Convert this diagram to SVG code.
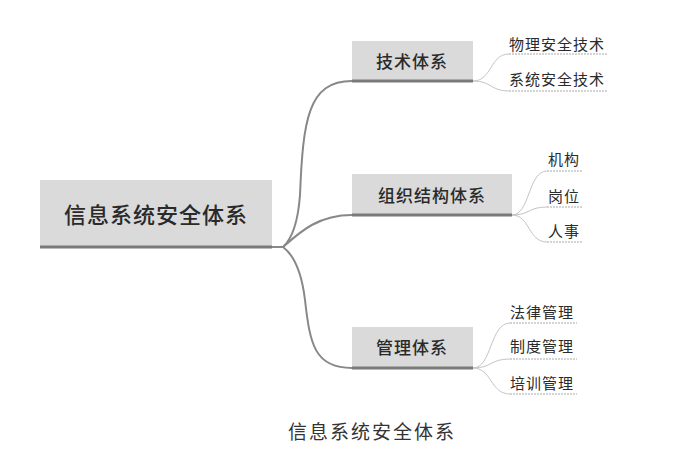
<svg xmlns="http://www.w3.org/2000/svg" width="696" height="472" viewBox="0 0 696 472">
<style>
.box{fill:#dadada}
.bar{stroke:#7a7a7a;stroke-width:3;fill:none}
.t{font-family:"Noto Sans CJK SC","Noto Sans",sans-serif;fill:#2a2a2a;text-anchor:middle;dominant-baseline:central;font-weight:500}
.root{font-size:22px;letter-spacing:1px}
.mid{font-size:17px;letter-spacing:1px}
.leaf{font-size:15px;letter-spacing:1px;text-anchor:start;font-weight:400}
.trunk{stroke:#888888;stroke-width:2;fill:none}
.twig{stroke:#c4c4c4;stroke-width:1;fill:none}
.ul{stroke:#a8a8a8;stroke-width:1;stroke-dasharray:2 1;fill:none}
.cap{font-family:"Noto Sans CJK SC",serif;font-size:19px;fill:#333;text-anchor:middle;dominant-baseline:central;letter-spacing:2px;font-weight:400}
</style>
<rect width="696" height="472" fill="#ffffff"/>
<g id="connectors">
<path class="trunk" d="M272 247 L283 247"/>
<path class="trunk" d="M283 247 C293 238 298 222 300 195 C303 120 308 81 352 81"/>
<path class="trunk" d="M283 247 C300 232 318 215 352 215"/>
<path class="trunk" d="M283 247 C295 256 302 275 305 300 C310 345 315 368 352 368"/>
<path class="twig" d="M473 81 C492 81 490 54 509 54"/>
<path class="twig" d="M473 81 C492 81 490 91 509 91"/>
<path class="twig" d="M512 215 C530 215 528 171 547 171"/>
<path class="twig" d="M512 215 C530 215 528 207 547 207"/>
<path class="twig" d="M512 215 C530 215 528 242 547 242"/>
<path class="twig" d="M473 368 C492 368 490 323 510 323"/>
<path class="twig" d="M473 368 C492 368 490 359 510 359"/>
<path class="twig" d="M473 368 C492 368 490 394 510 394"/>
</g>
<g id="root">
<rect class="box" x="40" y="180" width="232" height="67"/>
<line class="bar" x1="40" y1="247" x2="272" y2="247"/>
<text class="t root" x="156" y="213">信息系统安全体系</text>
</g>
<g id="jishu">
<rect class="box" x="352" y="41" width="121" height="40"/>
<line class="bar" x1="352" y1="81" x2="473" y2="81"/>
<text class="t mid" x="412" y="60">技术体系</text>
</g>
<g id="zuzhi">
<rect class="box" x="352" y="174" width="160" height="41"/>
<line class="bar" x1="352" y1="215" x2="512" y2="215"/>
<text class="t mid" x="432" y="194">组织结构体系</text>
</g>
<g id="guanli">
<rect class="box" x="352" y="327" width="121" height="41"/>
<line class="bar" x1="352" y1="368" x2="473" y2="368"/>
<text class="t mid" x="412" y="346">管理体系</text>
</g>
<g id="leaf1"><text class="t leaf" x="509" y="43">物理安全技术</text><line class="ul" x1="509" y1="54" x2="608" y2="54"/></g>
<g id="leaf2"><text class="t leaf" x="509" y="78">系统安全技术</text><line class="ul" x1="509" y1="91" x2="608" y2="91"/></g>
<g id="leaf3"><text class="t leaf" x="548" y="158">机构</text><line class="ul" x1="547" y1="171" x2="583" y2="171"/></g>
<g id="leaf4"><text class="t leaf" x="548" y="195">岗位</text><line class="ul" x1="547" y1="207" x2="583" y2="207"/></g>
<g id="leaf5"><text class="t leaf" x="548" y="230">人事</text><line class="ul" x1="547" y1="242" x2="583" y2="242"/></g>
<g id="leaf6"><text class="t leaf" x="510" y="311">法律管理</text><line class="ul" x1="510" y1="323" x2="577" y2="323"/></g>
<g id="leaf7"><text class="t leaf" x="510" y="345">制度管理</text><line class="ul" x1="510" y1="359" x2="577" y2="359"/></g>
<g id="leaf8"><text class="t leaf" x="510" y="382">培训管理</text><line class="ul" x1="510" y1="394" x2="577" y2="394"/></g>
<text class="cap" x="372" y="430">信息系统安全体系</text>
</svg>
